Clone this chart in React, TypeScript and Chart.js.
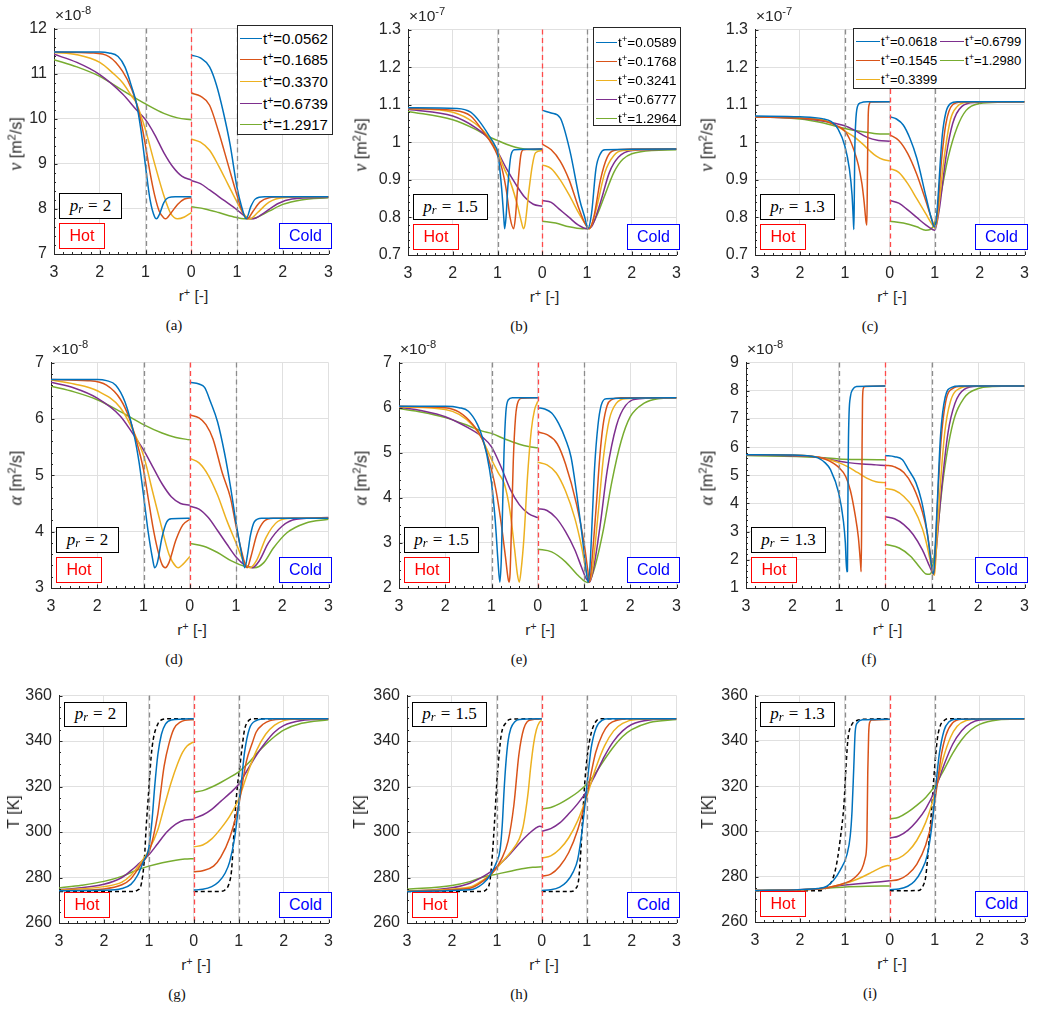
import React, { useEffect, useRef } from "react";
import { Chart, registerables } from "chart.js";

Chart.register(...registerables);

type Pair = [number, number]; // [r+, value]

const SANS = "'Liberation Sans', Arial, Helvetica, sans-serif";
const SERIF = "'Liberation Serif', 'Times New Roman', serif";
const INK = "#262626";
const GRID = "#e0e0e0";
const SERIES_COLORS = ["#0072BD", "#D95319", "#EDB120", "#7E2F8E", "#77AC30"];

// ---------- axis ticks ----------
const X_TICKS = [-3, -2, -1, 0, 1, 2, 3]; // hot side negative, printed as |r+|
const NU_P2_TICKS = [7, 8, 9, 10, 11, 12];
const NU_P15_TICKS = [0.7, 0.8, 0.9, 1, 1.1, 1.2, 1.3];
const NU_P13_TICKS = [0.7, 0.8, 0.9, 1, 1.1, 1.2, 1.3];
const AL_P2_TICKS = [3, 4, 5, 6, 7];
const AL_P15_TICKS = [2, 3, 4, 5, 6, 7];
const AL_P13_TICKS = [1, 2, 3, 4, 5, 6, 7, 8, 9];
const T_TICKS = [260, 280, 300, 320, 340, 360];

// ---------- legend labels (t+) ----------
const TPLUS_P2 = ["0.0562", "0.1685", "0.3370", "0.6739", "1.2917"];
const TPLUS_P15 = ["0.0589", "0.1768", "0.3241", "0.6777", "1.2964"];
const TPLUS_P13 = ["0.0618", "0.1545", "0.3399", "0.6799", "1.2980"];

// ---------- kinematic viscosity nu [x1e-8 / x1e-7 m2/s] ----------
const NU_HOT_P2: Pair[][] = [
  [[3,11.48],[2,11.48],[1.8,11.46],[1.6,11.38],[1.45,11.15],[1.3,10.7],[1.2,10.35],[1.1,9.75],[1,8.95],[0.9,8.2],[0.8,7.82],[0.76,7.78],[0.7,7.87],[0.6,8.14],[0.5,8.25],[0.35,8.27],[0,8.27]],
  [[3,11.48],[2.2,11.46],[1.8,11.38],[1.5,11.05],[1.3,10.65],[1.2,10.35],[1.1,9.95],[1,9.4],[0.9,8.8],[0.8,8.3],[0.7,7.95],[0.6,7.8],[0.56,7.78],[0.45,7.9],[0.3,8.1],[0.15,8.22],[0,8.25]],
  [[3,11.47],[2.5,11.42],[2,11.25],[1.7,11.0],[1.5,10.8],[1.3,10.5],[1.2,10.35],[1,9.75],[0.8,9.0],[0.6,8.3],[0.45,7.9],[0.3,7.78],[0.15,7.82],[0,7.92]],
  [[3,11.43],[2.5,11.25],[2,10.98],[1.5,10.55],[1.2,10.2],[1,9.98],[0.8,9.65],[0.6,9.25],[0.4,8.93],[0.2,8.72],[0,8.64]],
  [[3,11.31],[2.5,11.15],[2,10.94],[1.5,10.63],[1,10.33],[0.6,10.12],[0.3,10.02],[0,9.98]],
];
const NU_COLD_P2: Pair[][] = [
  [[0,11.41],[0.2,11.35],[0.4,11.15],[0.55,10.75],[0.7,10.15],[0.85,9.42],[1,8.47],[1.1,8.05],[1.2,7.78],[1.3,8.05],[1.4,8.22],[1.6,8.27],[3,8.27]],
  [[0,10.57],[0.2,10.5],[0.4,10.3],[0.6,9.7],[0.8,9.0],[1,8.3],[1.1,7.98],[1.22,7.78],[1.35,7.95],[1.5,8.15],[1.7,8.25],[2,8.27],[3,8.27]],
  [[0,9.55],[0.2,9.48],[0.4,9.3],[0.6,8.95],[0.8,8.55],[1,8.15],[1.15,7.88],[1.28,7.78],[1.45,7.92],[1.7,8.15],[2,8.25],[3,8.27]],
  [[0,8.63],[0.2,8.56],[0.4,8.42],[0.7,8.2],[1,7.98],[1.2,7.82],[1.35,7.78],[1.6,7.92],[1.9,8.12],[2.2,8.22],[3,8.26]],
  [[0,8.05],[0.3,8.0],[0.6,7.92],[0.9,7.83],[1.2,7.78],[1.4,7.8],[1.7,7.95],[2,8.1],[2.4,8.2],[3,8.25]],
];
const NU_HOT_P15: Pair[][] = [
  [[3,1.092],[1.9,1.09],[1.6,1.08],[1.4,1.055],[1.2,1.02],[1.05,0.99],[1,0.975],[0.91,0.88],[0.86,0.8],[0.84,0.77],[0.81,0.8],[0.77,0.88],[0.7,0.965],[0.62,0.98],[0,0.982]],
  [[3,1.09],[2,1.085],[1.6,1.07],[1.3,1.025],[1.1,0.99],[1,0.965],[0.9,0.93],[0.8,0.87],[0.72,0.8],[0.64,0.77],[0.6,0.8],[0.55,0.88],[0.48,0.965],[0.42,0.98],[0,0.982]],
  [[3,1.09],[2,1.08],[1.5,1.05],[1.2,1.015],[1,0.975],[0.85,0.93],[0.7,0.89],[0.55,0.83],[0.47,0.79],[0.42,0.77],[0.38,0.785],[0.3,0.87],[0.22,0.94],[0.15,0.972],[0,0.978]],
  [[3,1.088],[2,1.07],[1.5,1.04],[1.2,1.01],[1,0.975],[0.8,0.93],[0.6,0.89],[0.4,0.855],[0.2,0.835],[0,0.83]],
  [[3,1.082],[2,1.06],[1.5,1.035],[1.2,1.015],[1,1.005],[0.8,0.995],[0.6,0.987],[0.4,0.982],[0.2,0.98],[0,0.98]],
];
const NU_COLD_P15: Pair[][] = [
  [[0,1.085],[0.2,1.078],[0.4,1.065],[0.62,0.976],[0.84,0.845],[0.95,0.8],[1.02,0.77],[1.1,0.81],[1.2,0.93],[1.3,0.97],[1.4,0.98],[3,0.982]],
  [[0,0.995],[0.2,0.98],[0.4,0.95],[0.6,0.9],[0.8,0.83],[0.95,0.785],[1.05,0.77],[1.15,0.8],[1.3,0.9],[1.45,0.96],[1.6,0.978],[2,0.982],[3,0.982]],
  [[0,0.94],[0.2,0.93],[0.4,0.9],[0.6,0.86],[0.8,0.815],[0.95,0.785],[1.05,0.77],[1.2,0.82],[1.4,0.92],[1.6,0.965],[1.8,0.978],[3,0.982]],
  [[0,0.845],[0.2,0.84],[0.4,0.82],[0.6,0.8],[0.8,0.78],[1,0.77],[1.1,0.775],[1.3,0.84],[1.5,0.92],[1.7,0.96],[2,0.978],[3,0.982]],
  [[0,0.79],[0.3,0.785],[0.6,0.775],[0.9,0.77],[1.05,0.772],[1.2,0.8],[1.4,0.86],[1.6,0.92],[1.8,0.955],[2.2,0.975],[3,0.98]],
];
const NU_HOT_P13: Pair[][] = [
  [[3,1.07],[2,1.068],[1.5,1.063],[1.3,1.055],[1.15,1.035],[1,0.99],[0.9,0.93],[0.84,0.86],[0.81,0.79],[0.8,0.768],[0.79,0.85],[0.78,0.97],[0.76,1.05],[0.72,1.095],[0.65,1.105],[0.5,1.108],[0,1.108]],
  [[3,1.068],[1.5,1.058],[1.2,1.045],[1,1.03],[0.9,1.01],[0.8,0.98],[0.7,0.94],[0.62,0.89],[0.57,0.84],[0.53,0.79],[0.51,0.78],[0.5,0.88],[0.49,1.0],[0.48,1.07],[0.46,1.1],[0.42,1.107],[0,1.108]],
  [[3,1.068],[1.5,1.06],[1.2,1.045],[1,1.03],[0.8,1.015],[0.6,0.995],[0.45,0.978],[0.3,0.963],[0.15,0.954],[0,0.951]],
  [[3,1.067],[2,1.064],[1.5,1.057],[1.2,1.05],[1,1.044],[0.8,1.033],[0.5,1.013],[0.25,1.005],[0,1.003]],
  [[3,1.068],[2,1.062],[1.5,1.052],[1,1.037],[0.6,1.028],[0.3,1.023],[0,1.022]],
];
const NU_COLD_P13: Pair[][] = [
  [[0,1.068],[0.15,1.062],[0.3,1.046],[0.45,1.01],[0.6,0.958],[0.81,0.853],[0.92,0.8],[0.99,0.775],[1.03,0.79],[1.07,0.845],[1.12,0.94],[1.17,1.02],[1.25,1.08],[1.35,1.103],[1.5,1.108],[3,1.108]],
  [[0,1.02],[0.2,1.005],[0.4,0.97],[0.6,0.915],[0.8,0.845],[0.95,0.79],[1,0.775],[1.05,0.8],[1.15,0.95],[1.25,1.05],[1.4,1.1],[1.6,1.107],[3,1.108]],
  [[0,0.93],[0.2,0.92],[0.4,0.89],[0.6,0.85],[0.8,0.81],[0.95,0.78],[1,0.772],[1.05,0.79],[1.2,0.95],[1.35,1.06],[1.5,1.095],[1.7,1.106],[3,1.108]],
  [[0,0.845],[0.2,0.838],[0.4,0.82],[0.6,0.8],[0.8,0.78],[0.95,0.768],[1,0.766],[1.1,0.82],[1.25,0.96],[1.4,1.05],[1.6,1.095],[1.9,1.106],[3,1.108]],
  [[0,0.79],[0.3,0.785],[0.6,0.775],[0.8,0.766],[0.9,0.768],[1,0.785],[1.15,0.87],[1.3,0.96],[1.5,1.04],[1.7,1.085],[2,1.103],[2.5,1.107],[3,1.108]],
];

// ---------- thermal diffusivity alpha [x1e-8 m2/s] ----------
const AL_HOT_P2: Pair[][] = [
  [[3,6.7],[2,6.7],[1.8,6.68],[1.6,6.6],[1.4,6.3],[1.2,5.7],[1.1,5.25],[1,4.65],[0.9,4.0],[0.8,3.5],[0.76,3.36],[0.7,3.45],[0.6,3.9],[0.5,4.17],[0.4,4.23],[0,4.24]],
  [[3,6.7],[2.2,6.68],[1.8,6.6],[1.5,6.35],[1.3,6.0],[1.1,5.45],[1,5.1],[0.9,4.6],[0.8,4.1],[0.7,3.7],[0.6,3.42],[0.53,3.36],[0.45,3.45],[0.3,3.85],[0.15,4.12],[0,4.22]],
  [[3,6.69],[2.5,6.62],[2,6.5],[1.5,6.2],[1.2,5.75],[1,5.35],[0.8,4.7],[0.6,4.05],[0.45,3.6],[0.3,3.38],[0.25,3.36],[0.15,3.42],[0,3.56]],
  [[3,6.65],[2.5,6.55],[2,6.37],[1.5,6.05],[1.2,5.7],[1,5.45],[0.8,5.15],[0.6,4.85],[0.4,4.62],[0.2,4.5],[0,4.47]],
  [[3,6.58],[2.5,6.48],[2,6.34],[1.5,6.13],[1,5.9],[0.6,5.75],[0.3,5.67],[0,5.63]],
];
const AL_COLD_P2: Pair[][] = [
  [[0,6.65],[0.2,6.62],[0.32,6.56],[0.45,6.3],[0.6,5.95],[0.75,5.4],[0.88,4.8],[1,4.16],[1.1,3.7],[1.19,3.36],[1.25,3.6],[1.31,3.93],[1.4,4.18],[1.55,4.24],[3,4.24]],
  [[0,6.07],[0.2,6.02],[0.35,5.9],[0.5,5.65],[0.7,5.05],[0.88,4.6],[1,4.1],[1.12,3.65],[1.24,3.36],[1.32,3.55],[1.45,3.95],[1.6,4.18],[1.8,4.24],[3,4.24]],
  [[0,5.3],[0.2,5.22],[0.4,5.0],[0.6,4.65],[0.8,4.2],[1,3.8],[1.15,3.5],[1.3,3.36],[1.45,3.5],[1.65,3.9],[1.9,4.18],[2.2,4.24],[3,4.24]],
  [[0,4.45],[0.2,4.4],[0.4,4.25],[0.6,4.02],[0.8,3.78],[1,3.55],[1.2,3.4],[1.35,3.36],[1.5,3.48],[1.7,3.8],[2,4.1],[2.3,4.22],[3,4.25]],
  [[0,3.79],[0.3,3.74],[0.6,3.63],[0.9,3.48],[1.2,3.38],[1.4,3.36],[1.6,3.45],[1.8,3.7],[2.1,3.98],[2.5,4.15],[3,4.22]],
];
const AL_HOT_P15: Pair[][] = [
  [[3,6.03],[2,6.03],[1.7,6.0],[1.5,5.92],[1.3,5.62],[1.2,5.35],[1.1,4.95],[1,4.33],[0.92,3.5],[0.86,2.6],[0.82,2.13],[0.79,2.6],[0.76,3.8],[0.73,5.0],[0.69,5.9],[0.64,6.17],[0.55,6.22],[0,6.22]],
  [[3,6.03],[2,6.0],[1.7,5.9],[1.4,5.62],[1.2,5.3],[1,4.62],[0.9,4.15],[0.8,3.5],[0.7,2.7],[0.64,2.2],[0.62,2.13],[0.6,2.3],[0.57,3.3],[0.53,4.8],[0.48,5.8],[0.42,6.15],[0.35,6.21],[0,6.22]],
  [[3,6.02],[2,5.96],[1.7,5.85],[1.4,5.6],[1.2,5.3],[1,4.85],[0.85,4.55],[0.72,4.3],[0.6,3.7],[0.5,2.85],[0.44,2.3],[0.4,2.13],[0.36,2.4],[0.3,3.1],[0.22,4.5],[0.14,5.5],[0.07,5.95],[0,6.14]],
  [[3,6.01],[2.5,5.93],[2,5.8],[1.5,5.55],[1.2,5.35],[1,5.13],[0.8,4.7],[0.6,4.2],[0.4,3.85],[0.2,3.65],[0,3.56]],
  [[3,5.98],[2.5,5.9],[2,5.78],[1.5,5.6],[1.2,5.48],[1,5.43],[0.7,5.3],[0.4,5.19],[0.2,5.14],[0,5.11]],
];
const AL_COLD_P15: Pair[][] = [
  [[0,6.0],[0.15,5.97],[0.3,5.88],[0.45,5.65],[0.6,5.3],[0.72,4.9],[0.84,4.1],[0.93,3.4],[1,2.8],[1.05,2.35],[1.09,2.13],[1.13,2.5],[1.18,3.6],[1.23,4.7],[1.3,5.6],[1.37,6.05],[1.48,6.2],[3,6.22]],
  [[0,5.46],[0.2,5.4],[0.42,5.2],[0.6,4.75],[0.84,3.85],[1,3.0],[1.08,2.4],[1.12,2.13],[1.17,2.6],[1.27,3.9],[1.34,4.9],[1.41,5.6],[1.5,6.05],[1.6,6.18],[1.8,6.22],[3,6.22]],
  [[0,4.79],[0.2,4.73],[0.4,4.55],[0.6,4.15],[0.8,3.55],[0.95,2.9],[1.05,2.35],[1.12,2.15],[1.18,2.4],[1.3,3.6],[1.42,4.9],[1.55,5.75],[1.7,6.1],[1.9,6.2],[3,6.22]],
  [[0,3.76],[0.2,3.72],[0.4,3.55],[0.6,3.25],[0.8,2.85],[0.95,2.45],[1.05,2.2],[1.12,2.13],[1.2,2.4],[1.35,3.4],[1.5,4.6],[1.7,5.6],[1.9,6.05],[2.2,6.2],[3,6.22]],
  [[0,2.86],[0.3,2.8],[0.6,2.58],[0.85,2.3],[1,2.16],[1.08,2.12],[1.2,2.35],[1.4,3.2],[1.6,4.35],[1.8,5.25],[2,5.8],[2.3,6.1],[2.6,6.2],[3,6.22]],
];
const AL_HOT_P13: Pair[][] = [
  [[3,5.73],[2,5.72],[1.6,5.68],[1.45,5.62],[1.3,5.45],[1.18,5.2],[1,4.35],[0.9,3.35],[0.86,2.6],[0.83,1.58],[0.815,1.6],[0.805,4.0],[0.795,6.0],[0.78,7.2],[0.75,7.8],[0.7,8.05],[0.62,8.15],[0,8.17]],
  [[3,5.73],[1.6,5.68],[1.3,5.58],[1,5.28],[0.85,4.95],[0.75,4.45],[0.65,3.6],[0.58,2.8],[0.53,1.8],[0.52,1.58],[0.51,3.0],[0.5,6.0],[0.49,7.7],[0.47,8.1],[0.44,8.15],[0,8.17]],
  [[3,5.73],[1.6,5.68],[1.2,5.55],[1,5.45],[0.8,5.3],[0.6,5.1],[0.4,4.9],[0.2,4.77],[0,4.74]],
  [[3,5.72],[1.5,5.65],[1,5.5],[0.8,5.45],[0.5,5.4],[0.2,5.37],[0,5.35]],
  [[3,5.7],[1.5,5.64],[1,5.58],[0.5,5.56],[0,5.55]],
];
const AL_COLD_P13: Pair[][] = [
  [[0,5.7],[0.2,5.66],[0.37,5.55],[0.5,5.2],[0.66,4.74],[0.78,4.1],[0.87,3.33],[0.95,2.4],[1,1.75],[1.04,1.5],[1.08,2.6],[1.12,4.0],[1.19,6.4],[1.29,7.77],[1.43,8.12],[1.6,8.17],[3,8.17]],
  [[0,5.36],[0.2,5.3],[0.4,5.1],[0.6,4.6],[0.8,3.7],[0.9,3.0],[0.97,2.2],[1.02,1.55],[1.05,1.5],[1.09,2.8],[1.14,4.5],[1.2,6.2],[1.3,7.6],[1.45,8.08],[1.65,8.16],[3,8.17]],
  [[0,4.53],[0.2,4.47],[0.4,4.25],[0.6,3.85],[0.8,3.1],[0.9,2.5],[0.97,1.95],[1.02,1.55],[1.06,1.45],[1.1,2.4],[1.18,4.5],[1.28,6.5],[1.4,7.6],[1.6,8.08],[1.85,8.16],[3,8.17]],
  [[0,3.53],[0.2,3.46],[0.4,3.25],[0.6,2.9],[0.8,2.35],[0.92,1.9],[1,1.6],[1.04,1.48],[1.09,2.2],[1.2,4.3],[1.35,6.5],[1.5,7.55],[1.7,8.05],[2,8.16],[3,8.17]],
  [[0,2.55],[0.3,2.42],[0.55,2.12],[0.75,1.72],[0.88,1.5],[0.95,1.49],[1,1.6],[1.1,2.7],[1.25,4.9],[1.45,6.8],[1.7,7.75],[2,8.08],[2.3,8.15],[3,8.17]],
];

// ---------- temperature T [K] ----------
const T_INIT_HOT_P2: Pair[] = [[3,273.8],[1.4,273.8],[1.25,274.5],[1.17,277],[1.1,288],[1.06,302],[1,319],[0.95,333],[0.9,341],[0.8,347.5],[0.7,349.5],[0.6,349.8],[0,349.8]];
const T_INIT_COLD_P2: Pair[] = [[0,273.8],[0.6,273.9],[0.7,274.6],[0.78,277],[0.84,283],[0.88,295],[0.92,308],[0.97,320],[1.02,328],[1.08,338],[1.13,345],[1.2,348.5],[1.32,349.8],[3,349.8]];
const T_HOT_P2: Pair[][] = [
  [[3,274.2],[2,274.4],[1.6,275.2],[1.4,277],[1.25,281],[1.12,287],[1,293],[0.93,305],[0.87,320],[0.8,334],[0.72,343],[0.63,347.5],[0.5,349.3],[0,349.8]],
  [[3,274.3],[2,275],[1.6,276.8],[1.4,279.5],[1.2,285],[1,291],[0.9,298],[0.8,308],[0.66,329],[0.55,339],[0.44,345.5],[0.3,348.3],[0.2,349.1],[0,349.4]],
  [[3,274.5],[2,276],[1.6,278],[1.4,281],[1.2,286],[1,292],[0.8,301],[0.66,311],[0.5,322],[0.36,330],[0.25,335],[0.15,337.8],[0,339.7]],
  [[3,274.6],[2,277],[1.6,280],[1.4,283],[1.2,286.5],[1,290],[0.8,295],[0.6,300],[0.4,303.5],[0.2,305.3],[0,305.6]],
  [[3,275.4],[2.5,276.6],[2,278.3],[1.6,280.5],[1.3,283],[1,285],[0.7,286.5],[0.4,287.6],[0.2,288.1],[0,288.3]],
];
const T_COLD_P2: Pair[][] = [
  [[0,274.5],[0.2,274.8],[0.4,276],[0.55,278],[0.7,282],[0.8,287],[0.91,297.5],[1,312],[1.06,322],[1.13,335],[1.24,345.5],[1.39,349],[1.6,349.8],[3,349.8]],
  [[0,282.5],[0.2,283],[0.44,285],[0.6,289],[0.8,297.5],[1,312],[1.17,331],[1.3,339],[1.39,344],[1.55,347.5],[1.7,349],[2,349.7],[3,349.8]],
  [[0,293.5],[0.2,294.3],[0.4,297],[0.6,301.5],[0.8,307],[1,314.5],[1.2,326],[1.4,336],[1.6,343],[1.8,347],[2,349],[2.3,349.7],[3,349.8]],
  [[0,306],[0.2,307.5],[0.4,310],[0.6,313.5],[0.8,317],[1,321],[1.2,327.5],[1.4,334],[1.6,339.5],[1.8,344],[2,346.8],[2.4,349],[3,349.7]],
  [[0,317.5],[0.2,318.2],[0.4,319.8],[0.6,321.8],[0.8,324],[1,326.5],[1.2,330],[1.4,334.5],[1.6,338.5],[1.8,342],[2,344.8],[2.4,347.8],[3,349.4]],
];
const T_INIT_HOT_P15: Pair[] = [[3,273.8],[1.35,273.8],[1.22,275],[1.15,279],[1.1,290],[1.05,305],[1,322],[0.95,334],[0.9,343],[0.8,348],[0.7,349.6],[0,349.8]];
const T_INIT_COLD_P15: Pair[] = [[0,273.8],[0.65,273.9],[0.75,275],[0.82,279],[0.87,292],[0.92,310],[0.97,325],[1.03,336],[1.1,343.5],[1.2,348.5],[1.3,349.8],[3,349.8]];
const T_HOT_P15: Pair[][] = [
  [[3,273.9],[1.6,274.6],[1.3,277.5],[1.15,281],[1,287],[0.93,292],[0.88,303],[0.84,318],[0.8,330],[0.75,340],[0.69,345.5],[0.6,348.5],[0.5,349.5],[0,349.8]],
  [[3,274],[1.6,275.3],[1.3,278.5],[1.1,282],[0.9,288],[0.75,296],[0.62,312],[0.51,334],[0.4,345.5],[0.25,349.3],[0,349.7]],
  [[3,274.1],[1.6,275.8],[1.3,279],[1.1,282],[0.9,286.5],[0.7,291],[0.5,297],[0.42,302],[0.36,309],[0.3,318],[0.25,328],[0.18,339],[0.12,345],[0.05,348.3],[0,349]],
  [[3,273.9],[2,275.5],[1.6,277.5],[1.3,280.5],[1.1,283],[0.9,286.5],[0.7,290.5],[0.5,295],[0.3,299],[0.15,301.5],[0.05,302.6],[0,302.3]],
  [[3,274.8],[2,276.5],[1.6,278.2],[1.3,280.2],[1,281.5],[0.7,282.8],[0.4,284],[0.2,284.5],[0,284.7]],
];
const T_COLD_P15: Pair[][] = [
  [[0,274.3],[0.2,274.6],[0.4,275.8],[0.55,278],[0.7,282.5],[0.8,288],[0.9,301],[1,319.5],[1.1,337],[1.21,345.8],[1.35,349.2],[1.5,349.8],[3,349.8]],
  [[0,280.5],[0.2,281.5],[0.4,285],[0.6,291],[0.8,301],[1,316],[1.1,326],[1.2,335],[1.35,343],[1.5,347.5],[1.7,349.3],[2,349.8],[3,349.8]],
  [[0,288.6],[0.2,289.5],[0.4,292.5],[0.6,297.5],[0.8,305],[1,315.5],[1.2,328],[1.4,338],[1.6,344.5],[1.8,347.8],[2.1,349.5],[3,349.8]],
  [[0,300.4],[0.2,301.5],[0.4,304],[0.6,308],[0.8,312.5],[1,318],[1.2,325.5],[1.4,333.5],[1.6,340],[1.8,344.5],[2,347.3],[2.4,349.3],[3,349.8]],
  [[0,310.2],[0.2,310.8],[0.4,312.5],[0.6,314.8],[0.8,317.5],[1,321],[1.2,326],[1.4,332],[1.6,337.5],[1.8,342],[2,345],[2.4,348.2],[3,349.5]],
];
const T_INIT_HOT_P13: Pair[] = [[3,273.8],[1.6,273.8],[1.5,274],[1.4,275.5],[1.28,278.5],[1.18,286],[1.1,297],[1.02,312],[0.97,330],[0.93,341],[0.85,347],[0.73,349],[0.6,349.5],[0,349.8]];
const T_INIT_COLD_P13: Pair[] = [[0,273.8],[0.65,273.9],[0.73,275.6],[0.8,280],[0.85,290],[0.88,297],[0.94,312],[0.99,326],[1.06,341],[1.12,346.5],[1.21,349],[1.3,349.8],[3,349.8]];
const T_HOT_P13: Pair[][] = [
  [[3,273.9],[2,274.3],[1.6,274.8],[1.4,275.8],[1.25,278.5],[1.1,283],[0.95,290],[0.88,298],[0.84,309],[0.8,329],[0.77,344],[0.72,348],[0.6,349.3],[0,349.6]],
  [[3,273.9],[2,274.2],[1.5,274.8],[1.2,276],[1,277.2],[0.85,278.5],[0.73,280.5],[0.62,283.5],[0.55,288],[0.51,296],[0.49,326],[0.47,343],[0.45,348],[0.4,349.2],[0,349.5]],
  [[3,273.9],[1.5,274.8],[1.2,276],[1,277],[0.8,278.3],[0.6,280],[0.4,282],[0.2,284],[0.05,285],[0,284.8]],
  [[3,273.9],[1.5,274.8],[1.2,275.8],[1,276.3],[0.7,276.9],[0.4,277.4],[0.2,277.8],[0,278.2]],
  [[3,273.9],[2,274.3],[1.5,274.8],[1,275.5],[0.5,275.8],[0,275.9]],
];
const T_COLD_P13: Pair[][] = [
  [[0,274.3],[0.2,274.6],[0.4,275.8],[0.55,278],[0.7,282.5],[0.84,290],[0.95,304.6],[1.02,319],[1.1,333.8],[1.21,344.7],[1.32,348.4],[1.45,349.6],[3,349.8]],
  [[0,278.2],[0.2,278.8],[0.4,281],[0.6,285.5],[0.8,294],[0.95,306],[1.05,320],[1.15,334],[1.25,342.5],[1.4,348],[1.6,349.6],[3,349.8]],
  [[0,287.3],[0.2,288.2],[0.4,291],[0.6,296],[0.8,304],[1,316.5],[1.1,325],[1.2,333],[1.35,341.5],[1.5,346.5],[1.7,349],[2,349.7],[3,349.8]],
  [[0,297],[0.2,298],[0.4,300.5],[0.6,304.5],[0.8,310],[1,318],[1.2,329],[1.4,338.5],[1.6,344.5],[1.8,347.8],[2,349.2],[3,349.8]],
  [[0,305.5],[0.2,306.3],[0.4,308.5],[0.6,311.5],[0.8,315],[1,320],[1.2,327],[1.4,334.5],[1.6,340.5],[1.8,344.8],[2,347.3],[2.4,349.2],[3,349.7]],
];

// ---------- layout ----------
const AXW = 46; // reserved width for y tick labels
const AXH = 30; // reserved height for x tick labels
const PADT = 14;
const PADR = 9;
const TICK_FONT = 16;

interface LegendSpec {
  labels: string[];
  left: number; top: number; width: number; height: number;
  fontSize: number; rowH: number; padTop: number; lineLen: number;
  rows: number; colW: number;
}

interface PanelSpec {
  id: string;
  L: number; T: number; R: number; B: number;
  colCenter: number; titleX: number;
  yTicks: number[]; yMinor: number;
  quantity: "nu" | "alpha" | "T";
  exponent: string | null;
  hot: Pair[][]; cold: Pair[][];
  initHot?: Pair[]; initCold?: Pair[];
  pr: string; prWidth: number; prAtTop: boolean;
  legend?: LegendSpec;
}

const PANELS: PanelSpec[] = [
  { id: "a", L: 54, T: 26, R: 333, B: 254, colCenter: 174, titleX: 16, yTicks: NU_P2_TICKS, yMinor: 0.2, quantity: "nu", exponent: "-8", hot: NU_HOT_P2, cold: NU_COLD_P2, pr: "2", prWidth: 63, prAtTop: false,
    legend: { labels: TPLUS_P2, left: 237, top: 25, width: 96, height: 110, fontSize: 15, rowH: 21.6, padTop: 3, lineLen: 22, rows: 5, colW: 0 } },
  { id: "b", L: 408, T: 27, R: 681, B: 255, colCenter: 519, titleX: 361, yTicks: NU_P15_TICKS, yMinor: 0.02, quantity: "nu", exponent: "-7", hot: NU_HOT_P15, cold: NU_COLD_P15, pr: "1.5", prWidth: 75, prAtTop: false,
    legend: { labels: TPLUS_P15, left: 593, top: 27, width: 88, height: 99, fontSize: 13.5, rowH: 19, padTop: 6, lineLen: 21, rows: 5, colW: 0 } },
  { id: "c", L: 755, T: 27, R: 1029, B: 255, colCenter: 870, titleX: 707, yTicks: NU_P13_TICKS, yMinor: 0.02, quantity: "nu", exponent: "-7", hot: NU_HOT_P13, cold: NU_COLD_P13, pr: "1.3", prWidth: 75, prAtTop: false,
    legend: { labels: TPLUS_P13, left: 853, top: 28, width: 173, height: 61, fontSize: 13, rowH: 18.8, padTop: 5, lineLen: 24, rows: 3, colW: 84 } },
  { id: "d", L: 51, T: 360, R: 333, B: 588, colCenter: 174, titleX: 16, yTicks: AL_P2_TICKS, yMinor: 0.2, quantity: "alpha", exponent: "-8", hot: AL_HOT_P2, cold: AL_COLD_P2, pr: "2", prWidth: 63, prAtTop: false },
  { id: "e", L: 399, T: 360, R: 681, B: 588, colCenter: 519, titleX: 361, yTicks: AL_P15_TICKS, yMinor: 0.2, quantity: "alpha", exponent: "-8", hot: AL_HOT_P15, cold: AL_COLD_P15, pr: "1.5", prWidth: 75, prAtTop: false },
  { id: "f", L: 746, T: 360, R: 1029, B: 588, colCenter: 869, titleX: 707, yTicks: AL_P13_TICKS, yMinor: 0.2, quantity: "alpha", exponent: "-8", hot: AL_HOT_P13, cold: AL_COLD_P13, pr: "1.3", prWidth: 75, prAtTop: false },
  { id: "g", L: 59, T: 693, R: 333, B: 923, colCenter: 177, titleX: 14, yTicks: T_TICKS, yMinor: 5, quantity: "T", exponent: null, hot: T_HOT_P2, cold: T_COLD_P2, initHot: T_INIT_HOT_P2, initCold: T_INIT_COLD_P2, pr: "2", prWidth: 63, prAtTop: true },
  { id: "h", L: 407, T: 693, R: 681, B: 923, colCenter: 519, titleX: 360, yTicks: T_TICKS, yMinor: 5, quantity: "T", exponent: null, hot: T_HOT_P15, cold: T_COLD_P15, initHot: T_INIT_HOT_P15, initCold: T_INIT_COLD_P15, pr: "1.5", prWidth: 75, prAtTop: true },
  { id: "i", L: 755, T: 693, R: 1029, B: 922, colCenter: 870, titleX: 708, yTicks: T_TICKS, yMinor: 5, quantity: "T", exponent: null, hot: T_HOT_P13, cold: T_COLD_P13, initHot: T_INIT_HOT_P13, initCold: T_INIT_COLD_P13, pr: "1.3", prWidth: 75, prAtTop: true },
];

// dashed interface markers and MATLAB-style inward minor ticks
const decorPlugin = {
  id: "decor",
  afterDatasetsDraw(chart: any) {
    const { ctx, chartArea: a } = chart;
    const xs = chart.scales.x;
    ctx.save();
    ctx.lineWidth = 1.3;
    ctx.setLineDash([5, 3.5]);
    const vline = (v: number, color: string) => {
      const px = Math.round(xs.getPixelForValue(v)) + 0.5;
      ctx.strokeStyle = color;
      ctx.beginPath();
      ctx.moveTo(px, a.top);
      ctx.lineTo(px, a.bottom);
      ctx.stroke();
    };
    vline(-1, "#8c8c8c");
    vline(1, "#8c8c8c");
    vline(0, "#ff4a4a");
    ctx.restore();
  },
  afterDraw(chart: any, _args: any, opts: any) {
    const { ctx, chartArea: a } = chart;
    const xs = chart.scales.x;
    const ys = chart.scales.y;
    ctx.save();
    ctx.strokeStyle = INK;
    ctx.lineWidth = 1;
    ctx.beginPath();
    for (let k = -15; k <= 15; k++) {
      const px = Math.round(xs.getPixelForValue(k * 0.2)) + 0.5;
      const len = k % 5 === 0 ? 3.5 : 2;
      ctx.moveTo(px, a.bottom);
      ctx.lineTo(px, a.bottom - len);
    }
    const ticks: number[] = opts.yTicks;
    const step: number = opts.yMinor;
    const y0 = ticks[0];
    const y1 = ticks[ticks.length - 1];
    const n = Math.round((y1 - y0) / step);
    for (let k = 0; k <= n; k++) {
      const v = y0 + k * step;
      const major = ticks.some((t) => Math.abs(t - v) < step * 0.01);
      const py = Math.round(ys.getPixelForValue(v)) + 0.5;
      ctx.moveTo(a.left, py);
      ctx.lineTo(a.left + (major ? 3.5 : 2), py);
    }
    ctx.stroke();
    ctx.restore();
  },
};

function toPoints(pairs: Pair[], hot: boolean) {
  return pairs
    .map(([r, v]) => ({ x: hot ? -r : r, y: v }))
    .sort((p, q) => p.x - q.x);
}

function lineSet(pairs: Pair[], hot: boolean, color: string, dash: number[] = []) {
  return {
    data: toPoints(pairs, hot),
    borderColor: color,
    backgroundColor: color,
    borderWidth: 1.5,
    borderDash: dash,
    pointRadius: 0,
    fill: false,
    cubicInterpolationMode: "monotone" as const,
  };
}

function PanelChart({ spec }: { spec: PanelSpec }) {
  const ref = useRef<HTMLCanvasElement>(null);
  const cw = spec.R - spec.L + AXW + PADR;
  const ch = spec.B - spec.T + PADT + AXH;

  useEffect(() => {
    const datasets: any[] = [];
    spec.hot.forEach((s, i) => datasets.push(lineSet(s, true, SERIES_COLORS[i])));
    spec.cold.forEach((s, i) => datasets.push(lineSet(s, false, SERIES_COLORS[i])));
    if (spec.initHot && spec.initCold) {
      datasets.push(lineSet(spec.initHot, true, "#000000", [4, 3]));
      datasets.push(lineSet(spec.initCold, false, "#000000", [4, 3]));
    }
    const font = { family: SANS, size: TICK_FONT };
    const yt = spec.yTicks;
    const chart = new Chart(ref.current as HTMLCanvasElement, {
      type: "line",
      data: { datasets },
      plugins: [decorPlugin],
      options: {
        animation: false,
        responsive: false,
        maintainAspectRatio: false,
        events: [],
        layout: { padding: { top: PADT, right: PADR, left: 0, bottom: 0 } },
        plugins: {
          legend: { display: false },
          tooltip: { enabled: false },
          decor: { yTicks: yt, yMinor: spec.yMinor },
        } as any,
        scales: {
          x: {
            type: "linear",
            min: -3,
            max: 3,
            afterBuildTicks: (s: any) => { s.ticks = X_TICKS.map((v) => ({ value: v })); },
            afterFit: (s: any) => { s.height = AXH; },
            ticks: { font, color: INK, padding: 9, maxRotation: 0, autoSkip: false, callback: (v: any) => String(Math.abs(Number(v))) },
            grid: { color: GRID, lineWidth: 1, drawTicks: false },
            border: { color: INK, width: 1 },
          },
          y: {
            type: "linear",
            min: yt[0],
            max: yt[yt.length - 1],
            afterBuildTicks: (s: any) => { s.ticks = yt.map((v) => ({ value: v })); },
            afterFit: (s: any) => { s.width = AXW; },
            ticks: { font, color: INK, padding: 7, autoSkip: false, callback: (v: any) => String(+Number(v).toFixed(2)) },
            grid: { color: GRID, lineWidth: 1, drawTicks: false },
            border: { color: INK, width: 1 },
          },
        },
      } as any,
    });
    return () => chart.destroy();
  }, [spec]);

  return (
    <canvas
      ref={ref}
      width={cw}
      height={ch}
      style={{ position: "absolute", left: spec.L - AXW, top: spec.T - PADT, width: cw, height: ch }}
    />
  );
}

const supStyle: React.CSSProperties = { fontSize: "0.7em", verticalAlign: "0.5em", lineHeight: 0 };

function YTitle({ spec }: { spec: PanelSpec }) {
  let content: React.ReactNode;
  if (spec.quantity === "T") {
    content = <span>T [K]</span>;
  } else {
    const sym = spec.quantity === "nu" ? "ν" : "α";
    content = (
      <span>
        <span style={{ fontFamily: SERIF, fontStyle: "italic", fontSize: 18 }}>{sym}</span> [m<span style={supStyle}>2</span>/s]
      </span>
    );
  }
  return (
    <div
      style={{
        position: "absolute", left: spec.titleX, top: (spec.T + spec.B) / 2 + 4,
        transform: "translate(-50%, -50%) rotate(-90deg)", whiteSpace: "nowrap",
        fontFamily: SANS, fontSize: 16, color: INK, lineHeight: "18px",
      }}
    >
      {content}
    </div>
  );
}

function Legend({ lg }: { lg: LegendSpec }) {
  return (
    <div
      style={{
        position: "absolute", left: lg.left, top: lg.top, width: lg.width, height: lg.height,
        boxSizing: "border-box", border: `1.5px solid ${INK}`, background: "#fff",
      }}
    >
      {lg.labels.map((lab, i) => {
        const col = Math.floor(i / lg.rows);
        const row = i % lg.rows;
        return (
          <div
            key={lab}
            style={{
              position: "absolute", left: 2 + col * lg.colW, top: lg.padTop + row * lg.rowH - 1.5, height: lg.rowH,
              display: "flex", alignItems: "center", whiteSpace: "nowrap",
              fontFamily: SANS, fontSize: lg.fontSize, color: "#000",
            }}
          >
            <div style={{ width: lg.lineLen, height: 0, borderTop: `1.5px solid ${SERIES_COLORS[i]}` }} />
            <span style={{ marginLeft: 1 }}>
              t<span style={supStyle}>+</span>=<span>{lab}</span>
            </span>
          </div>
        );
      })}
    </div>
  );
}

function Panel({ spec }: { spec: PanelSpec }) {
  const cx = (spec.L + spec.R) / 2;
  const prTop = spec.prAtTop ? spec.T + 8.5 : spec.B - 61;
  const boxBase: React.CSSProperties = {
    position: "absolute", boxSizing: "border-box", background: "#fff",
    display: "flex", alignItems: "center", justifyContent: "center",
  };
  return (
    <>
      <PanelChart spec={spec} />
      {spec.exponent && (
        <div style={{ position: "absolute", left: spec.L + 1, top: spec.T - 19, fontFamily: SANS, fontSize: 15.5, lineHeight: "16px", color: INK, whiteSpace: "nowrap" }}>
          ×10<span style={{ fontSize: "0.72em", verticalAlign: "0.55em", lineHeight: 0 }}>{spec.exponent}</span>
        </div>
      )}
      <YTitle spec={spec} />
      <div style={{ position: "absolute", left: cx, top: spec.B + 42, transform: "translate(-50%, -50%)", fontFamily: SANS, fontSize: 15.5, color: INK, whiteSpace: "nowrap" }}>
        r<span style={supStyle}>+</span> [-]
      </div>
      <div style={{ position: "absolute", left: spec.colCenter, top: spec.B + 71, transform: "translate(-50%, -50%)", fontFamily: SERIF, fontSize: 15, color: "#111", whiteSpace: "nowrap" }}>
        ({spec.id})
      </div>
      <div style={{ ...boxBase, left: spec.L + 5, top: prTop, width: spec.prWidth, height: 25.5, border: "1.5px solid #000", fontFamily: SERIF, fontSize: 17, color: "#000", whiteSpace: "nowrap" }}>
        <span style={{ fontStyle: "italic" }}>p</span>
        <span style={{ fontStyle: "italic", fontSize: "0.72em", position: "relative", top: "0.3em" }}>r</span>
        <span style={{ margin: "0 0.3em" }}>=</span>
        <span>{spec.pr}</span>
      </div>
      <div style={{ ...boxBase, left: spec.L + 5, top: spec.B - 31, width: 46, height: 26, border: "1.5px solid #ff0000", fontFamily: SANS, fontSize: 16, color: "#ff0000" }}>
        Hot
      </div>
      <div style={{ ...boxBase, left: spec.R - 54, top: spec.B - 31, width: 53, height: 26, border: "1.5px solid #0000ff", fontFamily: SANS, fontSize: 16, color: "#0000ff" }}>
        Cold
      </div>
      {spec.legend && <Legend lg={spec.legend} />}
    </>
  );
}

export default function App() {
  return (
    <div style={{ position: "absolute", left: 0, top: 0, width: 1039, height: 1024, background: "#fff", overflow: "hidden" }}>
      {PANELS.map((p) => (
        <Panel key={p.id} spec={p} />
      ))}
    </div>
  );
}
